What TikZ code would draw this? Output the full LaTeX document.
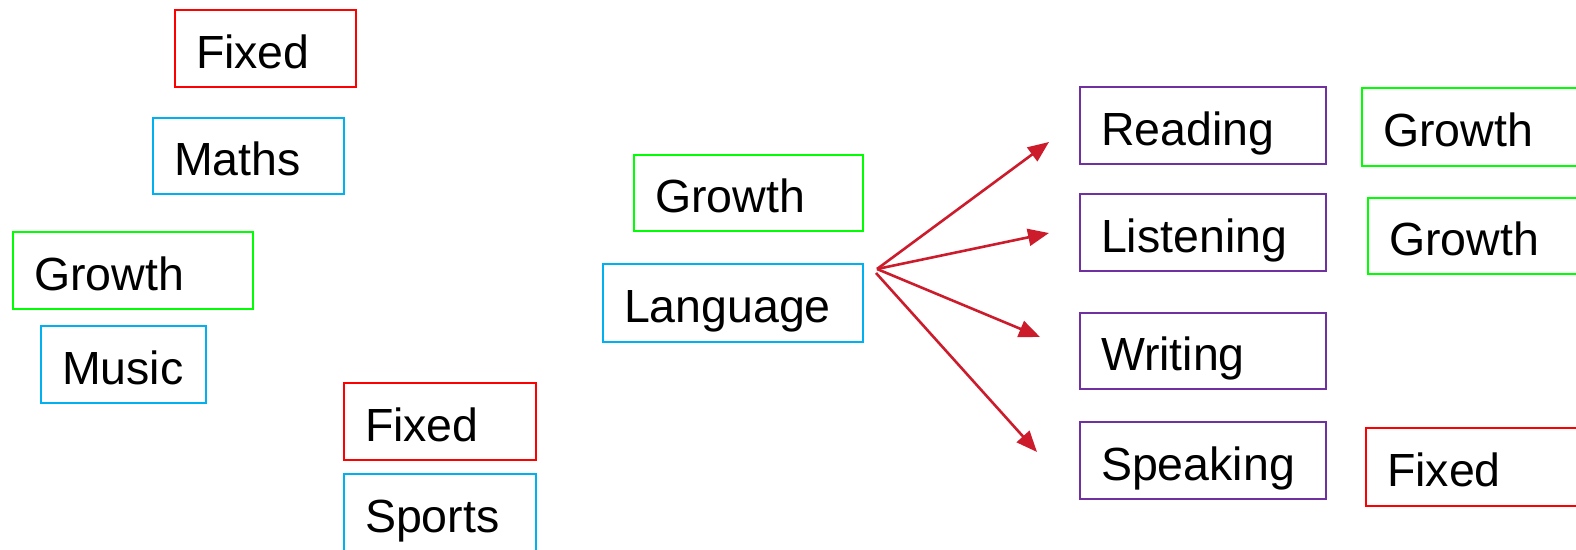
\documentclass[tikz,border=0pt]{standalone}
\usepackage{fontspec}
\setmainfont{Liberation Sans}
\usetikzlibrary{arrows.meta}
\definecolor{fixedred}{RGB}{255,0,0}
\definecolor{subjblue}{RGB}{0,176,240}
\definecolor{growgreen}{RGB}{0,255,0}
\definecolor{skillpurple}{RGB}{112,48,160}
\definecolor{arrowred}{RGB}{204,28,44}
\tikzset{
  tag/.style={draw, line width=2pt, anchor=north west, inner xsep=21pt, inner ysep=0pt,
    text height=39pt, text depth=0pt,
    align=left, font=\fontsize{46.5}{56}\selectfont},
  fixedtag/.style={tag, draw=fixedred},
  subjtag/.style={tag, draw=subjblue},
  growtag/.style={tag, draw=growgreen},
  skilltag/.style={tag, draw=skillpurple},
  link/.style={draw=arrowred, line width=2.6pt, -{Triangle[length=21pt,width=17pt]}}
}
% place a tag box by its top-left corner, width and height
\newcommand{\tagbox}[7]{%
  \node[#1, text width=#5pt-42pt, minimum height=#6pt] (#2) at (#3,#4) {#7};}
\begin{document}
\begin{tikzpicture}[x=1pt,y=-1pt]
\useasboundingbox (0,0) rectangle (1576,549);
\clip (0,0) rectangle (1576,549);
% left cluster
\tagbox{fixedtag}{fixedA}{174}{9}{181}{77}{Fixed}
\tagbox{subjtag}{maths}{152}{117}{191}{76}{Maths}
\tagbox{growtag}{growthA}{12}{231}{240}{77}{Growth}
\tagbox{subjtag}{music}{40}{325}{165}{77}{Music}
\tagbox{fixedtag}{fixedB}{343}{382}{192}{77}{Fixed}
\tagbox{subjtag}{sports}{343}{473}{192}{77}{Sports}
% centre
\tagbox{growtag}{growthB}{633}{154}{229}{76}{Growth}
\tagbox{subjtag}{language}{602}{263}{260}{78}{Language}
% skills
\tagbox{skilltag}{reading}{1079}{86}{246}{77}{Reading}
\tagbox{skilltag}{listening}{1079}{193}{246}{77}{Listening}
\tagbox{skilltag}{writing}{1079}{312}{246}{76}{Writing}
\tagbox{skilltag}{speaking}{1079}{421}{246}{77}{Speaking}
% right column
\tagbox{growtag}{growthC}{1361}{87}{240}{78}{Growth}
\tagbox{growtag}{growthD}{1367}{197}{240}{76}{Growth}
\tagbox{fixedtag}{fixedC}{1365}{427}{240}{78}{Fixed}
% fan of arrows
\coordinate (hub) at (877,269);
\coordinate (hubLow) at (876,273);
\coordinate (toReading) at (1049,142);
\coordinate (toListening) at (1049,233);
\coordinate (toWriting) at (1040,337);
\coordinate (toSpeaking) at (1037,452);
\draw[link] (hub) -- (toReading);
\draw[link] (hub) -- (toListening);
\draw[link] (hub) -- (toWriting);
\draw[link] (hubLow) -- (toSpeaking);
\end{tikzpicture}
\end{document}
